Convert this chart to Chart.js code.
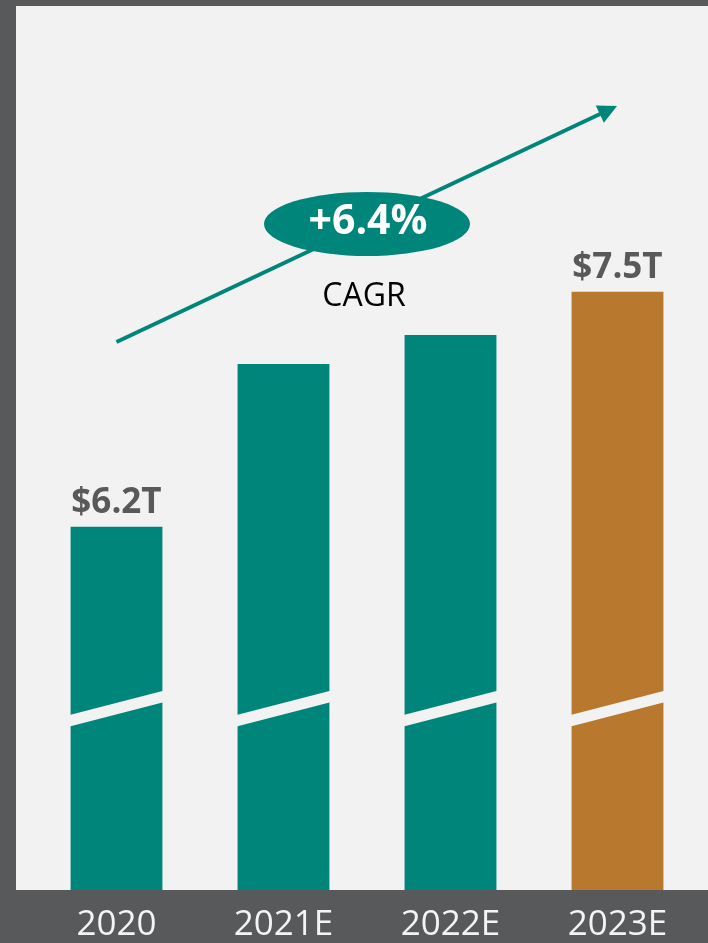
<!DOCTYPE html>
<html>
<head>
<meta charset="utf-8">
<script src="https://cdn.jsdelivr.net/npm/chart.js@4.4.1/dist/chart.umd.min.js"></script>
<style>
  html, body { margin: 0; padding: 0; background: #58595b; overflow: hidden; }
  #wrap { position: relative; width: 708px; height: 960px; }
</style>
</head>
<body>
<div id="wrap"><canvas id="c" width="708" height="960"></canvas></div>
<script>
const categories = ["2020", "2021E", "2022E", "2023E"];
const marketValues = [6.2, 7.1, 7.26, 7.5];
const valueLabels = ["$6.2T", "", "", "$7.5T"];
const barColors = ["#00857a", "#00857a", "#00857a", "#b8782e"];
const cagrLabel = "+6.4%";
const cagrCaption = "CAGR";

const PANEL = "#f2f2f2";

const decorPlugin = {
  id: "decor",
  beforeDraw(chart) {
    const { ctx, chartArea } = chart;
    ctx.save();
    ctx.fillStyle = "#58595b";
    ctx.fillRect(0, 0, chart.width, chart.height);
    ctx.fillStyle = PANEL;
    ctx.fillRect(16, 6, chart.width - 16, chartArea.bottom - 6);
    ctx.restore();
  },
  afterDatasetsDraw(chart) {
    const { ctx, chartArea } = chart;
    const meta = chart.getDatasetMeta(0);
    ctx.save();
    // axis-break bands
    meta.data.forEach((bar) => {
      const half = bar.width / 2;
      const xl = bar.x - half - 1, xr = bar.x + half + 1;
      const yl = chartArea.bottom - 175;
      const yr = yl - 0.258 * (xr - xl);
      const t = 11.5;
      ctx.fillStyle = PANEL;
      ctx.beginPath();
      ctx.moveTo(xl, yl);
      ctx.lineTo(xr, yr);
      ctx.lineTo(xr, yr + t);
      ctx.lineTo(xl, yl + t);
      ctx.closePath();
      ctx.fill();
    });
    // value labels
    ctx.font = "bold 35px 'Open Sans'";
    ctx.fillStyle = "#595959";
    ctx.textAlign = "center";
    ctx.textBaseline = "alphabetic";
    meta.data.forEach((bar, i) => {
      if (valueLabels[i]) ctx.fillText(valueLabels[i], bar.x, bar.y - 14);
    });

    // CAGR arrow
    const x0 = 116.5, y0 = 342, x1 = 617, y1 = 106;
    const dx = x1 - x0, dy = y1 - y0, len = Math.hypot(dx, dy);
    const ux = dx / len, uy = dy / len, px = -uy, py = ux;
    const headLen = 19, headHalf = 9.5;
    const teal = "#00857a";
    ctx.strokeStyle = teal;
    ctx.lineWidth = 4;
    ctx.beginPath();
    ctx.moveTo(x0, y0);
    ctx.lineTo(x1 - ux * (headLen - 2), y1 - uy * (headLen - 2));
    ctx.stroke();
    ctx.fillStyle = teal;
    ctx.beginPath();
    ctx.moveTo(x1, y1);
    ctx.lineTo(x1 - ux * headLen + px * headHalf, y1 - uy * headLen + py * headHalf);
    ctx.lineTo(x1 - ux * headLen - px * headHalf, y1 - uy * headLen - py * headHalf);
    ctx.closePath();
    ctx.fill();

    // ellipse
    ctx.beginPath();
    ctx.ellipse(367, 224, 103, 32, 0, 0, Math.PI * 2);
    ctx.fillStyle = teal;
    ctx.fill();
    ctx.fillStyle = "#ffffff";
    ctx.font = "bold 41px 'Open Sans'";
    ctx.textBaseline = "middle";
    ctx.fillText(cagrLabel, 368, 222);
    ctx.fillStyle = "#000000";
    ctx.font = "32px 'Open Sans'";
    ctx.textBaseline = "alphabetic";
    ctx.fillText(cagrCaption, 364, 306);
    ctx.restore();
  }
};

new Chart(document.getElementById("c"), {
  type: "bar",
  data: {
    labels: categories,
    datasets: [{
      data: marketValues,
      backgroundColor: barColors,
      borderWidth: 0,
      barPercentage: 0.55,
      categoryPercentage: 1.0
    }]
  },
  options: {
    responsive: false,
    animation: false,
    events: [],
    layout: { padding: { left: 33, right: 7, top: 6, bottom: 0 } },
    plugins: { legend: { display: false }, tooltip: { enabled: false } },
    scales: {
      x: {
        grid: { display: false, drawTicks: false },
        border: { display: false },
        ticks: {
          color: "#f4f4f4",
          padding: 14,
          font: { family: "'Open Sans'", size: 35, lineHeight: 1.2 }
        }
      },
      y: {
        display: false,
        min: 4.19,
        max: 9.08
      }
    }
  },
  plugins: [decorPlugin]
});
</script>
</body>
</html>
